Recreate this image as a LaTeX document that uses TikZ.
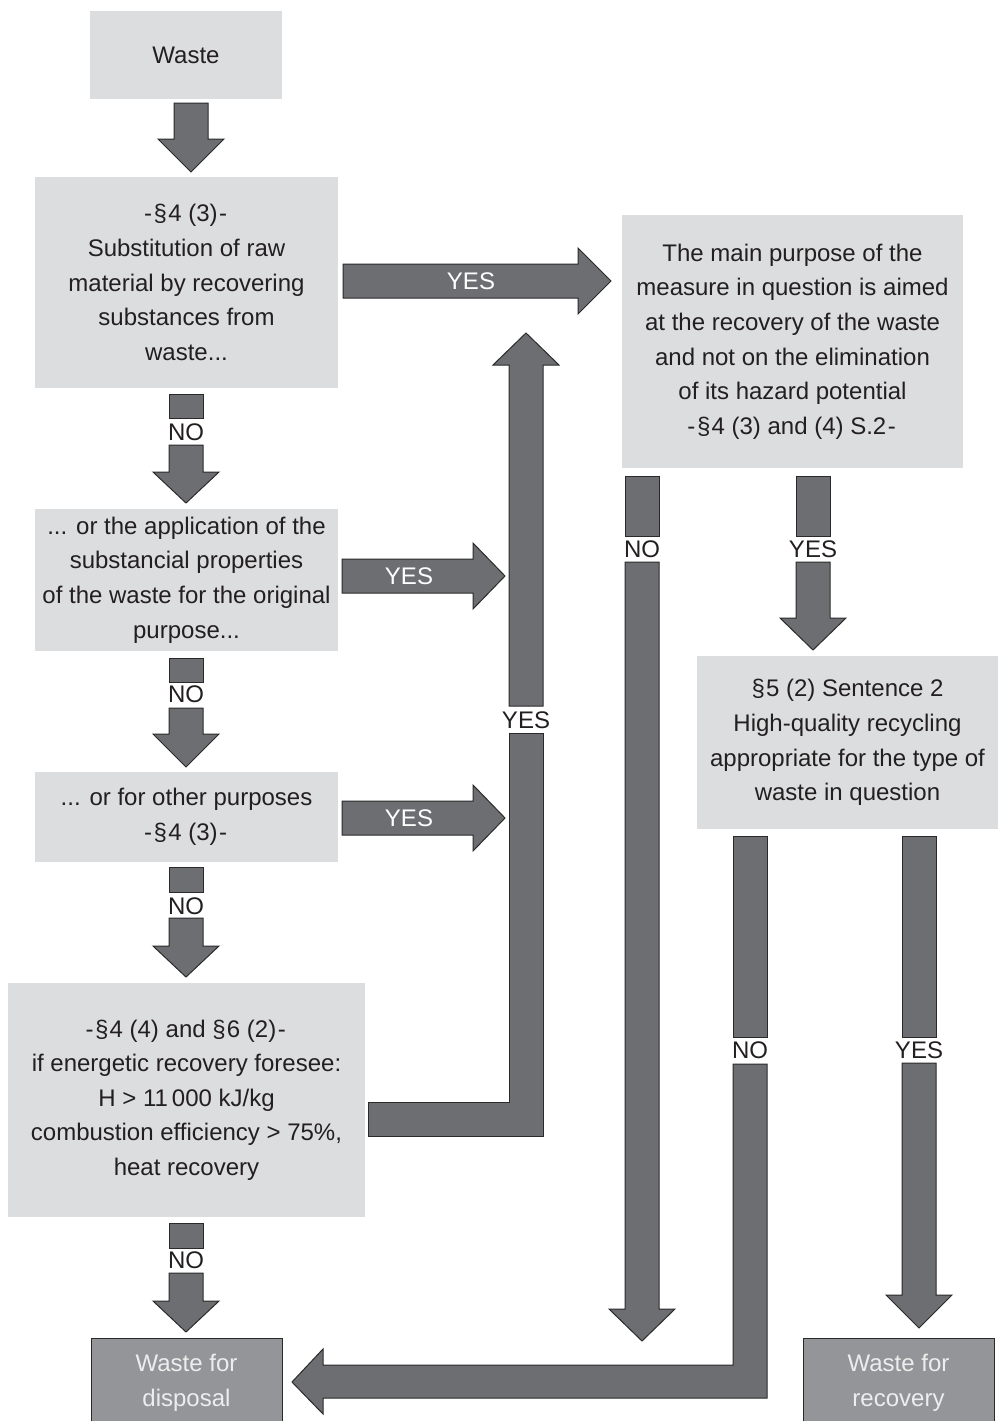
\documentclass[tikz,border=0pt]{standalone}
\usepackage{fontspec}
\setmainfont{Liberation Sans}
\definecolor{boxgray}{HTML}{DCDDDE}
\definecolor{arrowgray}{HTML}{6D6E71}
\definecolor{edgegray}{HTML}{2B2A2B}
\definecolor{endgray}{HTML}{939598}
\definecolor{inkgray}{HTML}{231F20}
\definecolor{paletext}{HTML}{EDEDED}

% block arrow pointing down: centre x, top of shaft, base of head, tip
\newcommand\blkdown[4]{%
  \draw[blk] ({#1-17},#2) -- ({#1+17},#2) -- ({#1+17},#3) -- ({#1+33},#3)
    -- (#1,#4) -- ({#1-33},#3) -- ({#1-17},#3) -- cycle;}
% block arrow pointing right: left end, base of head, tip, centre y
\newcommand\blkright[4]{%
  \draw[blk] (#1,{#4-17}) -- (#2,{#4-17}) -- (#2,{#4-33}) -- (#3,#4)
    -- (#2,{#4+33}) -- (#2,{#4+17}) -- (#1,{#4+17}) -- cycle;}
% paragraph sign with tight spacing
\newcommand\para[1]{§\kern0.6pt#1}
\newcommand\dsh{\kern0.8pt-\kern0.8pt}

\begin{document}
\begin{tikzpicture}[x=0.5pt,y=-0.5pt,
  every node/.style={font=\fontsize{12}{17.3}\selectfont, text=inkgray},
  lbox/.style={fill=boxgray, inner sep=0pt, outer sep=0pt, align=center},
  endbox/.style={fill=endgray, draw=edgegray, line width=0.5pt, inner sep=0pt,
    outer sep=0pt, align=center, text=paletext},
  blk/.style={fill=arrowgray, draw=edgegray, line width=0.5pt, line join=miter},
  gaplabel/.style={inner sep=0pt},
  inlabel/.style={inner sep=0pt, text=white}]

\useasboundingbox (0,0) rectangle (998,1421);
\clip (0,0) rectangle (998,1421);

% ---- decision boxes ----
\node[lbox, minimum width=96pt, minimum height=44pt] (waste) at (186,55) {Waste};
\node[lbox, minimum width=151.5pt, minimum height=105.5pt] (b1) at (186.5,282.5)
  {-\kern0.8pt\para{4} (3)\dsh\\Substitution of raw\\material by recovering\\substances from\\waste...};
\node[lbox, minimum width=151.5pt, minimum height=71pt] (b2) at (186.5,580)
  {... or the application of the\\substancial properties\\of the waste for the original\\purpose...};
\node[lbox, minimum width=151.5pt, minimum height=45pt] (b3) at (186.5,817)
  {... or for other purposes\\-\kern0.8pt\para{4} (3)\dsh};
\node[lbox, minimum width=178.5pt, minimum height=117pt] (b4) at (186.5,1100)
  {-\kern0.8pt\para{4} (4) and \para{6} (2)\dsh\\if energetic recovery foresee:\\H > 11\,000 kJ/kg\\combustion efficiency > 75\%,\\heat recovery};
\node[lbox, minimum width=170.5pt, minimum height=126.5pt] (r1) at (792.5,341.5)
  {The main purpose of the\\measure in question is aimed\\at the recovery of the waste\\and not on the elimination\\of its hazard potential\\-\kern0.8pt\para{4} (3) and (4) S.2\dsh};
\node[lbox, minimum width=150.5pt, minimum height=86.5pt] (r2) at (847.5,742.5)
  {\para{5} (2) Sentence 2\\High-quality recycling\\appropriate for the type of\\waste in question};

% ---- results ----
\node[endbox, minimum width=95.5pt, minimum height=45pt] (disp) at (186.5,1383) {Waste for\\disposal};
\node[endbox, minimum width=95.5pt, minimum height=45pt] (recov) at (898.5,1383) {Waste for\\recovery};

% ---- left column: NO chain ----
\blkdown{191}{103}{139}{172}
\draw[blk] (169,394) rectangle (203,418);
\node[gaplabel] (no1) at (186,432) {NO};
\blkdown{186}{445}{472}{503}
\draw[blk] (169,658) rectangle (203,682);
\node[gaplabel] (no2) at (186,694) {NO};
\blkdown{186}{708}{734}{767}
\draw[blk] (169,867) rectangle (203,892);
\node[gaplabel] (no3) at (186,906) {NO};
\blkdown{186}{918}{946}{977}
\draw[blk] (169,1223) rectangle (203,1248);
\node[gaplabel] (no4) at (186,1260) {NO};
\blkdown{186}{1273}{1301}{1332}

% ---- YES branches to the right ----
\blkright{343}{578}{611}{281}
\node[inlabel] (yes1) at (471,281) {YES};
\blkright{342}{473}{505}{576}
\node[inlabel] (yes2) at (409,576) {YES};
\blkright{342}{473}{505}{818}
\node[inlabel] (yes3) at (409,818) {YES};

% collecting riser
\draw[blk] (509,706) -- (509,365) -- (493,365) -- (526,333) -- (559,365)
  -- (543,365) -- (543,706) -- cycle;
\node[gaplabel] (yes4) at (526,720) {YES};
\draw[blk] (509,733) -- (543,733) -- (543,1136) -- (368,1136) -- (368,1102)
  -- (509,1102) -- cycle;

% ---- below the main-purpose box ----
\draw[blk] (625,476) rectangle (659,536);
\node[gaplabel] (no5) at (642,549) {NO};
\blkdown{642}{562}{1309}{1341}
\draw[blk] (796,476) rectangle (830,536);
\node[gaplabel] (yes5) at (813,549) {YES};
\blkdown{813}{562}{618}{650}

% ---- below the recycling box ----
\draw[blk] (733,836) rectangle (767,1037);
\node[gaplabel] (no6) at (750,1050) {NO};
\draw[blk] (733,1064) -- (767,1064) -- (767,1398) -- (323,1398) -- (323,1414)
  -- (292,1382) -- (323,1349) -- (323,1365) -- (733,1365) -- cycle;
\draw[blk] (902,836) rectangle (936,1037);
\node[gaplabel] (yes6) at (919,1050) {YES};
\blkdown{919}{1063}{1295}{1328}

\end{tikzpicture}
\end{document}
